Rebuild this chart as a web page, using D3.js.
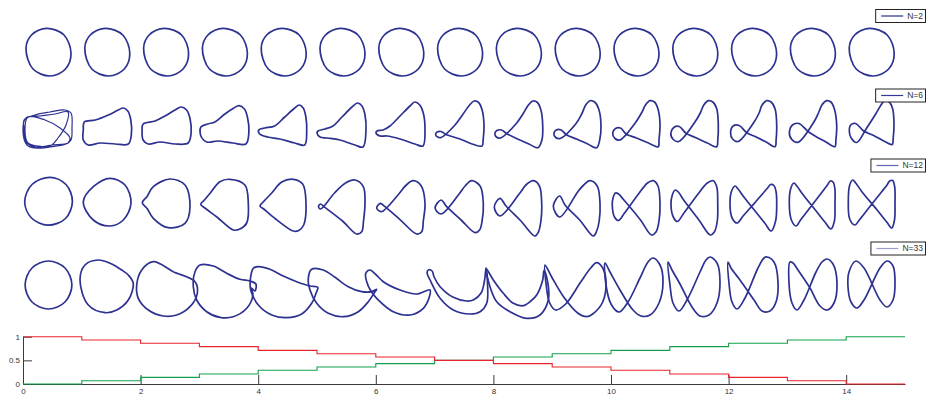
<!DOCTYPE html>
<html>
<head>
<meta charset="utf-8">
<script src="https://cdn.jsdelivr.net/npm/d3@7"></script>
<style>
  body { margin: 0; background: #fff; }
  svg { display: block; font-family: "Liberation Sans", Arial, Helvetica, sans-serif; }
</style>
</head>
<body>
<svg id="chart" width="927" height="398"></svg>
<script>
// ---- data -------------------------------------------------------------
// Morph steps 0..14 (one column of shapes per step)
const frameLabels = [0, 1, 2, 3, 4, 5, 6, 7, 8, 9, 10, 11, 12, 13, 14];
const seriesLabels = ["N=2", "N=6", "N=12", "N=33"];

// Blend weights per step: circle weight (red), figure-eight weight (green)
const weightCircle = [1, 0.93, 0.86, 0.79, 0.71, 0.64, 0.57, 0.5, 0.43, 0.36, 0.29, 0.21, 0.14, 0.07, 0];
const weightEight  = [0, 0.07, 0.14, 0.21, 0.29, 0.36, 0.43, 0.5, 0.57, 0.64, 0.71, 0.79, 0.86, 0.93, 1];
const stepEnd = 15;
const xTicks = [0, 2, 4, 6, 8, 10, 12, 14];
const yTicks = [0, 0.5, 1];

// Outline points of each reconstructed curve, in shape units relative to its cell centre (y down)
const ellipseN2 = [[-1.8,-23.7],[15.5,-17],[22.5,1.3],[17,17],[1.5,24],[-15.5,17],[-22.5,-3.7],[-17,-17]];
const shapesN2 = frameLabels.map(() => ellipseN2);

const shapesN6 = [
  [[-24.5,-8],[-13.5,-13],[1.5,-16],[16.5,-18],[22.5,-15],[23.5,0],[22.5,12],[17.5,16],[1.5,19],[-13.5,20],[-21.5,17],[-25.5,4],
   [-22.5,-10],[-8.5,-12],[6.5,-14],[19.5,-16],[17.5,-3],[9.5,10],[1.5,18],[-10.5,18],[-20.5,15],[-23.5,2],
   [-20.5,-11],[-3.5,-8],[11.5,0],[21.5,10],[19.5,15],[3.5,17],[-13.5,19],[-22.5,14],[-24.5,0]],
  [[-23,-6],[-12,-8],[1,-13],[11,-18],[16,-20],[20.5,-17],[23.5,-8],[24,7],[21,16],[8,16],[-7,15],[-19,17],[-24,12],[-24,2]],
  [[-23,-4],[-11,-7],[-1,-12],[9,-18],[15,-21],[20.5,-18],[24,-9],[25,5],[22,15],[9,16],[-6,14],[-18,16],[-23,12],[-24,3]],
  [[-24,-1],[-17,-4],[-10,-6],[0,-14],[9,-20],[14,-22.3],[19.5,-19],[22.5,-11],[24,4],[21,16],[8,15],[-7,13],[-18,14],[-24,8]],
  [[-25,2],[-19,0],[-9,-2],[1,-11],[11,-20],[15.5,-23],[19.5,-20],[22,-12],[23,4],[21,17],[11,15],[-4,11],[-16,9],[-24,6]],
  [[-24.5,3],[-17.5,1],[-9.5,-2],[-0.5,-11],[9.5,-21],[15,-25],[19.5,-22],[22.5,-13],[23.5,2],[20.5,19],[12.5,17],[-2.5,12],[-15.5,10],[-22.5,9],[-25.5,5]],
  [[-24.3,3],[-18.3,2],[-11.3,-2],[-1.3,-12],[8.7,-22],[13.5,-26],[18.5,-23],[22,-15],[23.7,2],[21.7,18],[13.7,16],[-1.3,11],[-14.3,8],[-21.3,8],[-25.3,5]],
  [[9.5,-23],[14,-27],[18.5,-25.5],[22,-18],[23.9,-3],[23,12],[22,18],[12,16],[0,11],[-14,6.5],[-19,3.5],[-23,4],[-24.5,6.5],[-22.5,9],[-19,9.5],[-6,-2],[3,-14]],
  [[9.5,-23],[14,-27],[18.5,-25.5],[22,-18],[23.8,-3],[23,12],[19,19.7],[10,16],[1,12],[-11.6,6],[-17.5,2],[-22,2.5],[-24,5.5],[-22.5,9],[-18.5,10],[-3,-4],[4,-14]],
  [[8,-23],[12.3,-27.3],[17,-26],[21,-19],[23.3,-3],[22,12],[19,19.7],[10,16],[0,11.5],[-11,7],[-16.5,2],[-21.5,2],[-23.8,5.5],[-22,9.5],[-17.5,10.5],[-2,-4],[4,-14]],
  [[9,-23],[13.5,-27.3],[18,-26],[21.5,-19],[23.5,-4],[22.5,12],[21.8,18.7],[12,15],[0,10],[-10.5,6],[-16,0],[-21,0.5],[-23.8,5],[-21.5,10.5],[-16.5,12],[-2,-4],[5,-15]],
  [[8.5,-23],[13,-27.3],[17.5,-26],[21.5,-19],[23,-3],[22.5,12],[21.4,18.7],[12,15],[0,9.5],[-9.3,5.3],[-16,-1.5],[-21.5,-0.5],[-24.5,5],[-22,11.5],[-16.5,13.5],[-1,-5],[5,-15]],
  [[8,-23],[12.6,-27.3],[17,-26],[21,-19],[22.6,-3],[22,12],[21,18.7],[12,14],[2,9],[-7.4,4.7],[-15,-2.5],[-21,-2],[-23.5,4.5],[-21.5,11],[-16,13.5],[0,-6],[5,-15]],
  [[9,-23],[13.8,-27.3],[18,-26],[21.5,-19],[23.8,-3],[23,12],[22,18.7],[13,14],[3,8.5],[-4.6,3.7],[-14,-4.5],[-20.5,-3],[-23.5,3.5],[-21.5,11],[-15,14.3],[1,-6],[6,-16]],
  [[9,-22.5],[13,-27.3],[17.5,-26],[21,-19],[22.3,-3],[21.5,10],[20.5,16.5],[13,13.5],[2,7.5],[-8.4,2.7],[-16,-4.5],[-21,-3],[-22.4,3],[-20.5,10],[-15,14.5],[-5,0],[4,-14]]
];

const shapesN12 = [
  [[1.5,-23.7],[17.5,-16.5],[23.9,0.5],[17,17.5],[-0.5,24.2],[-17,17],[-23.8,0.7],[-16.5,-16.5]],
  [[-24,0.7],[-14,-14.3],[2.7,-22.7],[17.7,-16],[23.7,2.3],[16,19],[2.7,25],[-14,19]],
  [[-23.8,1.7],[-19,-4.5],[-12.8,-14.3],[3.9,-22],[18.9,-16],[23.9,5.7],[18.9,22.3],[2.2,26.7],[-12.8,17.3],[-19,7.5]],
  [[-24.2,3.3],[-20.5,-1],[-14.6,-8],[-5,-19.3],[5.1,-21.7],[20,-16],[23.4,2.3],[21.8,22],[15,28],[8.4,29],[-8,16],[-20,7]],
  [[-23.7,5],[-21,1.5],[-12,-8],[-2,-19],[9.6,-21.7],[19,-17],[22.3,2.3],[20,24],[15,29.5],[9.6,30],[-8,18],[-20,8]],
  [[12.5,-21],[20.8,-14.3],[22.5,2.3],[21,20],[19.2,30.7],[14.2,33],[0,20],[-18.5,5.7],[-22,3],[-24,5.5],[-22,8],[-8,-8],[3,-18]],
  [[12,-20.3],[20,-15],[23.7,2.3],[22,20],[20.4,30.7],[15.4,33],[-0.5,19.3],[-16.3,5.7],[-21,2.3],[-24.6,7],[-20,10.7],[-2.3,-7.3],[5,-16]],
  [[11.6,-20.3],[20,-15],[23.2,2.3],[22,20],[19.5,29],[15,31.7],[1,19],[-13.4,5.7],[-19,-1],[-25,7],[-19,13],[-1,-7],[5,-15]],
  [[14.4,-20.3],[20.5,-15],[22.8,2.3],[22,20],[19.5,31],[16,35],[2,20],[-12.9,5],[-19,-2.7],[-24.6,6],[-19,15],[1,-8],[7,-16]],
  [[12.3,-20.3],[19.5,-15],[22.3,2.3],[21.5,20],[19,30],[15.6,35],[2,19],[-12.7,4],[-18,-5],[-24.4,5],[-18,16],[0,-9],[6,-16]],
  [[11,-18],[16.8,-20.3],[21.5,-15],[23.5,2.3],[22.5,20],[19.5,31],[15,34],[4,19],[-13,-1.5],[-18,-7],[-21,-8],[-23.5,-3],[-24.2,5],[-22,16],[-18,19.5],[-12,12],[2,-7]],
  [[12,-18],[18,-20.3],[21.5,-14],[22.4,2.3],[22,20],[19,31],[15,34],[4,19.5],[-12,-1.5],[-17,-9],[-20,-11],[-23,-6],[-24.3,4],[-22,16],[-18,20.5],[-12,13],[2,-6]],
  [[13.5,-13],[16.5,-16.5],[19.8,-15.5],[22,-9],[22.6,2.3],[21.5,20],[17,30],[11,22.5],[0,8.8],[-11,-5],[-16,-12],[-19,-15],[-22.5,-10],[-24.1,3],[-22,17],[-17,22],[-11,15],[0,2.6],[10,-9]],
  [[14.5,-16],[17.5,-20],[20.5,-18.5],[22,-12],[22.1,2.3],[21.5,20],[18,28],[12,21],[2,8.5],[-10,-6.5],[-16,-15],[-19,-18],[-22,-13],[-23.6,3],[-21.5,19],[-17,25],[-12,18.5],[0,3],[10,-10]],
  [[15,-15.5],[18,-20],[21,-20.5],[23,-14],[23.3,2],[22.8,19],[20,27],[15,21],[5,8.5],[-10,-9.6],[-16,-18],[-19,-21],[-22,-16],[-23.4,0],[-22,18],[-17,24],[-12,18.5],[-1,4.5],[10,-9.3]]
];

const shapesN33 = [
  [[0,-24],[16.5,-17],[23.4,0],[16.5,17],[0,24],[-16.5,17],[-23.4,0],[-16.5,-17]],
  [[-9,-25],[2.7,-21.7],[14.4,-15],[21,-10],[26,-1.7],[21,15],[9.4,25],[-2,27.7],[-19,20],[-27.3,-5],[-22.3,-20]],
  [[-12.8,-23.3],[7.2,-13.3],[28.9,-3.3],[31.2,8.3],[23.9,21.7],[10.6,30],[-2.8,31],[-17.8,25],[-27.8,13.3],[-29.4,0],[-24.4,-15]],
  [[-24.9,-20],[-11.6,-19],[1.8,-11.7],[15.1,-5.7],[25.1,-4],[31,-1],[30,6],[26.5,3],[28,10],[21.8,23.3],[8.4,31.7],[-4.9,32.3],[-18.2,26.7],[-28.2,15],[-31.6,1.7],[-29.9,-13.3]],
  [[-25.4,-18.3],[-13.7,-15.7],[-0.4,-9],[13,-3.3],[26.3,1],[34,2.3],[32.3,8.3],[28,18.3],[18,29],[3,32.7],[-12,30],[-25.4,20],[-33,5],[-33,-8.3],[-30.4,-16.7]],
  [[-30.8,-15.7],[-19.2,-15],[-7.5,-7.7],[5.8,1.7],[19.2,6.7],[29.2,6.7],[34.2,4.3],[31.5,8.3],[25.8,16.7],[15.8,26.7],[0.8,31.7],[-14.2,28.3],[-25.8,18.3],[-32.5,5],[-34.2,-6.7]],
  [[28.7,5],[15.4,9],[-1.3,5],[-18,-3.3],[-25.5,-10.5],[-31.3,-15],[-35.6,-11.7],[-34.5,-3],[-31,5],[-24.6,13.3],[-8,26.7],[8.7,30],[22,23.3],[28,12]],
  [[25.9,-16.7],[27.5,0],[26.6,18.3],[20,26.7],[10,29],[-6.8,25],[-20,13.3],[-30,-5],[-33,-12],[-31.8,-15],[-28,-14],[-26,-8],[-20,1.7],[-6.8,12.3],[6.6,16],[13.2,15],[21,8],[24.5,-5]],
  [[-32.9,-16.7],[-25.6,-5],[-15.6,8.3],[-5.6,18.3],[4.4,20.7],[12,16],[17.8,10],[23.8,-5],[25.1,-14.3],[28.4,-5],[29.4,15],[21,30],[7.8,33.3],[-8.9,26.7],[-22.2,16.7],[-28.9,1.7]],
  [[-32.7,-20],[-31.5,0],[-28,18],[-22,25],[-12,19],[3,-3],[13,-17],[19,-22.3],[25,-17],[28.3,-3],[25,17],[15,29],[9,31.7],[0,28],[-14,12],[-26,-8]],
  [[-31.5,-22],[-30.5,0],[-25.5,19],[-17.5,27],[-8.5,17],[3.5,-7],[11.5,-23],[16.5,-27],[23.5,-20],[26.5,-3],[22.5,18],[13.5,30],[4.5,31],[-3.5,25],[-16.5,5],[-26.5,-13]],
  [[-27.3,-23],[-25.3,0],[-22.3,18],[-16.3,26],[-7.3,13],[4.7,-13],[10.7,-25],[14.7,-28],[21.7,-22],[24.7,-3],[21.7,18],[13.7,30],[4.7,31],[-3.3,22],[-15.3,-1],[-23.3,-15]],
  [[-26.1,-23],[-25.1,-2],[-22.1,17],[-17.1,24],[-9.1,13],[3.9,-17],[9.9,-27],[12.9,-28],[19.9,-23],[23.9,-3],[21.9,17],[15.9,26],[7.9,26],[-0.1,15],[-14.1,-5],[-23.1,-17]],
  [[-22.9,-23],[-23.9,-2],[-20.9,18],[-15.9,25],[-8.9,15],[3.1,-13],[9.1,-23],[14.1,-26],[20.1,-21],[24.1,-2],[21.1,18],[14.1,25],[7.1,21],[-2.9,3],[-14.9,-15],[-19.9,-22]],
  [[-15.7,-24],[-22.7,-13],[-23.7,2],[-20.7,17],[-14.7,23],[-7.7,15],[8.3,-17],[15.3,-24],[21.3,-19],[23.3,-2],[21.3,15],[15.3,22],[8.3,15],[-7.7,-17]]
];

const seriesShapes = [shapesN2, shapesN6, shapesN12, shapesN33];

// ---- layout & style ----------------------------------------------------
const layout = {
  colStart: 19.1, colEnd: 901.1,
  rowCenters: [52, 128, 201, 285],
  legendTops: [9, 88.5, 158.5, 241.5],
  legendRight: 926,
  plot: { left: 23, right: 905, top: 336.7, bottom: 384 }
};
const curveColor = "#2d3190";
const legendLineColors = ["#2b2f8c", "#33379a", "#6467b8", "#9c9dd2"];
const axisColor = "#3a3a3a";
const redColor = "#e8242b";
const greenColor = "#13a04c";

const svg = d3.select("#chart");

// ---- rows of morphing curves ----------------------------------------------
const col = d3.scaleBand().domain(frameLabels).range([layout.colStart, layout.colEnd]);

seriesShapes.forEach((shapes, r) => {
  const g = svg.append("g").attr("class", "row");
  const cy = layout.rowCenters[r];
  frameLabels.forEach((f, i) => {
    const cx = col(f) + col.bandwidth() / 2;
    const sx = d3.scaleLinear().domain([-1, 1]).range([cx - 1, cx + 1]);
    const sy = d3.scaleLinear().domain([-1, 1]).range([cy - 1, cy + 1]);
    const line = d3.line()
      .x(p => sx(p[0])).y(p => sy(p[1]))
      .curve(d3.curveCatmullRomClosed.alpha(0.5));
    const multi = shapes[i].length > 20;
    g.append("path")
      .attr("d", line(shapes[i]))
      .attr("fill", "none")
      .attr("stroke", curveColor)
      .attr("stroke-width", multi ? 1.2 : 1.7)
      .attr("stroke-linejoin", "round");
  });

  // legend box
  const top = layout.legendTops[r];
  const lg = svg.append("g").attr("class", "legend");
  const txt = lg.append("text")
    .attr("font-size", 8.5)
    .attr("fill", "#333")
    .attr("y", top + 9.6)
    .text(seriesLabels[r]);
  const tw = txt.node().getComputedTextLength();
  const boxW = 6 + 22 + 4 + tw + 3;
  const bx = layout.legendRight - boxW;
  txt.attr("x", bx + 32);
  lg.insert("rect", "text")
    .attr("x", bx + 0.5).attr("y", top + 0.5)
    .attr("width", boxW - 1).attr("height", 13)
    .attr("fill", "#fff").attr("stroke", "#222").attr("stroke-width", 1);
  lg.append("line")
    .attr("x1", bx + 6).attr("x2", bx + 28)
    .attr("y1", top + 7).attr("y2", top + 7)
    .attr("stroke", legendLineColors[r]).attr("stroke-width", 1.2);
});

// ---- blend-weight step plot ---------------------------------------------
const x = d3.scaleLinear().domain([0, stepEnd]).range([layout.plot.left, layout.plot.right]);
const y = d3.scaleLinear().domain([0, 1]).range([layout.plot.bottom, layout.plot.top]);

const xAxis = svg.append("g")
  .attr("transform", `translate(0,${layout.plot.bottom})`)
  .call(d3.axisBottom(x).tickValues(xTicks).tickSizeInner(-9).tickSizeOuter(0).tickPadding(4).tickFormat(d3.format("d")));
const yAxis = svg.append("g")
  .attr("transform", `translate(${layout.plot.left},0)`)
  .call(d3.axisLeft(y).tickValues(yTicks).tickSizeInner(-9).tickSizeOuter(0).tickPadding(3).tickFormat(d => String(d)));

[xAxis, yAxis].forEach(a => {
  a.selectAll("path, line").attr("stroke", axisColor).attr("stroke-width", 1);
  a.selectAll("text").attr("fill", "#333").attr("font-size", 8)
    .attr("font-family", "'Liberation Sans', Arial, sans-serif");
});

const stepLine = d3.line().x(d => x(d[0])).y(d => y(d[1])).curve(d3.curveStepAfter);
const withEnd = w => frameLabels.map((f, i) => [f, w[i]]).concat([[stepEnd, w[w.length - 1]]]);

svg.append("path").attr("d", stepLine(withEnd(weightEight)))
  .attr("fill", "none").attr("stroke", greenColor).attr("stroke-width", 1.1);
svg.append("path").attr("d", stepLine(withEnd(weightCircle)))
  .attr("fill", "none").attr("stroke", redColor).attr("stroke-width", 1.1);
</script>
</body>
</html>
